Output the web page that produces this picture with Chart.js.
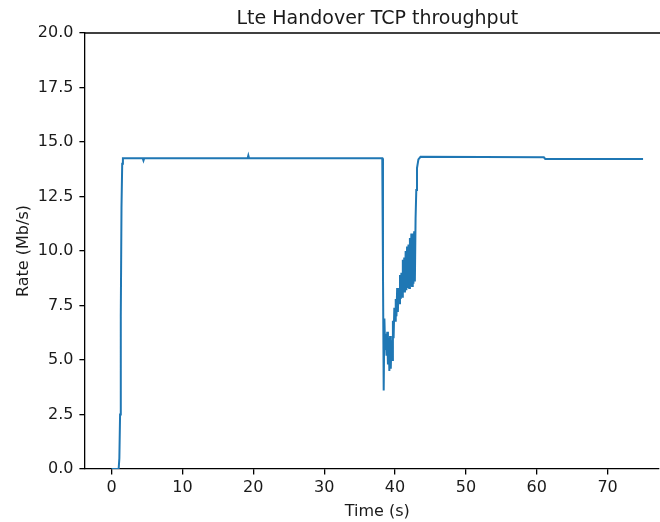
<!DOCTYPE html>
<html><head><meta charset="utf-8">
<script src="https://cdn.jsdelivr.net/npm/chart.js@4"></script>
<style>html,body{margin:0;padding:0;background:#fff;overflow:hidden}#wrap{width:660px;height:522px}</style>
</head><body><div id="wrap"><canvas id="c" width="660" height="522"></canvas></div>
<script>
const TITLE = 'Lte Handover TCP throughput';
const X_LABEL = 'Time (s)';
const Y_LABEL = 'Rate (Mb/s)';
const xTicks = [0, 10, 20, 30, 40, 50, 60, 70];
const yTicks = [0, 2.5, 5, 7.5, 10, 12.5, 15, 17.5, 20];

const times = [
  0, 1.0, 1.1, 1.2, 1.3, 1.4, 1.5, 1.6, 2.0, 4.4, 4.5, 4.6, 19.2, 19.3, 19.4,
  38.2, 38.3, 38.4, 38.5, 38.6, 38.7, 38.8, 38.9, 39.0, 39.1, 39.2, 39.3, 39.4,
  39.5, 39.6, 39.7, 39.8, 39.9, 40.0, 40.1, 40.2, 40.3, 40.4, 40.5, 40.6, 40.7,
  40.8, 40.9, 41.0, 41.1, 41.2, 41.3, 41.4, 41.5, 41.6, 41.7, 41.8, 41.9, 42.0,
  42.1, 42.2, 42.3, 42.4, 42.5, 42.6, 42.7, 42.8, 42.9, 43.0, 43.1, 43.3, 43.6,
  61.0, 61.2, 75.0
];
const rates = [
  0, 0, 0.5, 2.5, 7.0, 12.0, 14.0, 14.25, 14.25, 14.25, 14.15, 14.25, 14.25, 14.38, 14.25,
  14.25, 9.0, 3.6, 6.9, 5.5, 6.2, 5.2, 6.3, 4.8, 6.0, 4.5, 6.1, 4.6,
  5.9, 5.0, 6.8, 6.0, 7.4, 6.8, 7.8, 7.0, 8.3, 7.2, 8.3, 7.6, 8.9,
  7.8, 9.0, 7.9, 9.6, 8.1, 9.7, 8.1, 10.0, 8.2, 10.2, 8.3, 10.3, 8.3,
  10.6, 8.4, 10.8, 8.4, 10.8, 8.5, 10.9, 8.6, 11.5, 12.8, 13.8, 14.2, 14.32,
  14.3, 14.22, 14.22
];

const FONT = 'DejaVu Sans';
const TEXT = '#1a1a1a';
const SPINE = 1.3;

const textPlugin = {
  id: 'texts',
  afterDraw(chart) {
    const ctx = chart.ctx;
    const xs = chart.scales.x, ys = chart.scales.y;
    const a = chart.chartArea;
    const cx = xs.getPixelForValue((Math.min(...times) + Math.max(...times)) / 2);
    ctx.save();
    ctx.strokeStyle = '#000';
    ctx.lineWidth = SPINE;
    ctx.beginPath();
    ctx.moveTo(a.left, a.top);
    ctx.lineTo(chart.width, a.top);
    ctx.stroke();
    ctx.fillStyle = TEXT;
    ctx.textAlign = 'center';
    ctx.textBaseline = 'alphabetic';
    ctx.font = '19px "' + FONT + '"';
    ctx.fillText(TITLE, cx, 24);
    ctx.font = '16px "' + FONT + '"';
    ctx.fillText(X_LABEL, cx, 516);
    ctx.translate(28, ys.getPixelForValue((ys.min + ys.max) / 2));
    ctx.rotate(-Math.PI / 2);
    ctx.fillText(Y_LABEL, 0, 0);
    ctx.restore();
  }
};

new Chart(document.getElementById('c'), {
  type: 'line',
  data: {
    datasets: [{
      data: times.map((t, i) => ({ x: t, y: rates[i] })),
      borderColor: '#1f77b4',
      borderWidth: 2,
      pointRadius: 0,
      tension: 0,
      fill: false
    }]
  },
  options: {
    responsive: false,
    animation: false,
    layout: { padding: { top: 33, right: 1, left: 0, bottom: 0 } },
    plugins: { legend: { display: false }, title: { display: false }, tooltip: { enabled: false } },
    scales: {
      x: {
        type: 'linear',
        min: -3.75,
        max: 77.25,
        afterBuildTicks: s => { s.ticks = xTicks.map(v => ({ value: v })); },
        afterFit: s => { s.height = 53; },
        grid: { drawOnChartArea: false, drawTicks: true, tickLength: 5.6, color: '#000', lineWidth: SPINE },
        border: { display: true, color: '#000', width: SPINE },
        ticks: {
          color: TEXT, font: { family: FONT, size: 16 }, padding: 4,
          maxRotation: 0, autoSkip: false, callback: v => String(v)
        }
      },
      y: {
        min: 0,
        max: 20,
        afterBuildTicks: s => { s.ticks = yTicks.map(v => ({ value: v })); },
        afterFit: s => { s.width = 85; },
        grid: { drawOnChartArea: false, drawTicks: true, tickLength: 5.6, color: '#000', lineWidth: SPINE },
        border: { display: true, color: '#000', width: SPINE },
        ticks: {
          color: TEXT, font: { family: FONT, size: 16 }, padding: 6,
          autoSkip: false, callback: v => v.toFixed(1)
        }
      }
    }
  },
  plugins: [textPlugin]
});
</script>
</body></html>
